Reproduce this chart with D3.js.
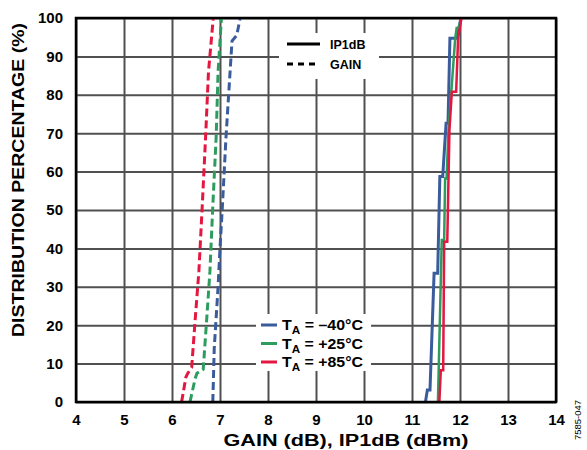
<!DOCTYPE html>
<html><head><meta charset="utf-8">
<script src="https://cdn.jsdelivr.net/npm/d3@7"></script>
<style>html,body{margin:0;padding:0;background:#fff;}svg{display:block;font-family:Arial,"Liberation Sans",sans-serif;}</style>
</head><body>
<svg id="c" width="587" height="450"></svg>
<script>
// ---- data ----
const xTicks = [4,5,6,7,8,9,10,11,12,13,14];
const yTicks = [0,10,20,30,40,50,60,70,80,90,100];
const seriesNames = ["T_A = –40°C","T_A = +25°C","T_A = +85°C"];
const seriesColors = ["#3a5b9c","#2e9c5e","#e3173f"];
// GAIN (dB) distributions: [value, percentage]
const gainM40 = [[6.85,0],[6.88,14],[6.96,30],[7.00,40],[7.05,51],[7.125,69],[7.21,86],[7.25,94],[7.35,95.5],[7.42,100]];
const gainP25 = [[6.375,0],[6.48,6],[6.52,7.5],[6.65,8.5],[6.72,21],[6.79,34],[6.85,51],[6.92,69],[6.96,86],[7.03,100]];
const gainP85 = [[6.20,0],[6.29,6.5],[6.33,7.5],[6.41,9],[6.48,21],[6.56,34],[6.63,51],[6.70,69],[6.76,86],[6.86,100]];
// IP1dB (dBm) distributions: [value, percentage]
const ip1M40 = [[11.28,0],[11.32,3.1],[11.375,3.1],[11.46,33.5],[11.535,33.5],[11.58,58.7],[11.64,58.7],[11.71,72.6],[11.75,72.6],[11.79,94.7],[11.93,94.7],[12.02,100]];
const ip1P25 = [[11.54,0],[11.62,42.2],[11.67,42.2],[11.69,58.2],[11.72,58.2],[11.76,70.8],[11.90,94.7],[11.93,97.4],[11.97,97.4],[12.03,100]];
const ip1P85 = [[11.57,0],[11.60,8.3],[11.65,8.3],[11.67,41.7],[11.735,41.7],[11.78,70.8],[11.83,80.8],[11.92,80.8],[11.96,94.7],[12.03,100]];

const gainSeries = [gainM40, gainP25, gainP85];
const ip1Series = [ip1M40, ip1P25, ip1P85];

// ---- layout ----
const svg = d3.select("#c");
const x = d3.scaleLinear().domain([4,14]).range([76,556]);
const y = d3.scaleLinear().domain([0,100]).range([402,18]);
const gridColor = "#505050";
const FF = "Arial, 'Liberation Sans', sans-serif";

// grid
svg.append("g").attr("class","xgrid")
  .attr("transform",`translate(0,${y(0)})`)
  .call(d3.axisBottom(x).tickValues(xTicks).tickSize(-(y(0)-y(100))).tickFormat(""))
  .call(g=>g.select(".domain").remove())
  .call(g=>g.selectAll("line").attr("stroke",gridColor).attr("stroke-width",2));
svg.append("g").attr("class","ygrid")
  .attr("transform",`translate(${x(4)},0)`)
  .call(d3.axisLeft(y).tickValues(yTicks).tickSize(-(x(14)-x(4))).tickFormat(""))
  .call(g=>g.select(".domain").remove())
  .call(g=>g.selectAll("line").attr("stroke",gridColor).attr("stroke-width",2));

// tick labels
const xl = svg.append("g").attr("transform",`translate(0,${y(0)})`)
  .call(d3.axisBottom(x).tickValues(xTicks).tickSize(0).tickPadding(12).tickFormat(d3.format("d")));
xl.select(".domain").remove();
xl.selectAll("text").attr("font-size",15).attr("font-weight","bold").attr("fill","#000").attr("font-family",FF);
const yl = svg.append("g").attr("transform",`translate(${x(4)},0)`)
  .call(d3.axisLeft(y).tickValues(yTicks).tickSize(0).tickPadding(13).tickFormat(d3.format("d")));
yl.select(".domain").remove();
yl.selectAll("text").attr("font-size",15).attr("font-weight","bold").attr("fill","#000").attr("font-family",FF);

// legend boxes (white, hide grid)
svg.append("rect").attr("x",279).attr("y",33).attr("width",100).attr("height",46).attr("fill","#fff");
svg.append("rect").attr("x",256).attr("y",314).attr("width",115).attr("height",57).attr("fill","#fff");

// lines
const line = d3.line().x(d=>x(d[0])).y(d=>y(d[1]));
const plot = svg.append("g");
gainSeries.forEach((s,i)=>{
  plot.append("path").attr("d",line(s)).attr("fill","none").attr("stroke",seriesColors[i])
    .attr("stroke-width",3).attr("stroke-dasharray","8,4");
});
ip1Series.forEach((s,i)=>{
  plot.append("path").attr("d",line(s)).attr("fill","none").attr("stroke",seriesColors[i])
    .attr("stroke-width",i===0?3:2.5).attr("stroke-linejoin","miter");
});

// frame
svg.append("rect").attr("x",x(4)).attr("y",y(100)).attr("width",x(14)-x(4)).attr("height",y(0)-y(100))
  .attr("fill","none").attr("stroke","#000").attr("stroke-width",2.5);

// style legend
svg.append("line").attr("x1",287).attr("x2",320).attr("y1",44).attr("y2",44).attr("stroke","#000").attr("stroke-width",3);
svg.append("line").attr("x1",287).attr("x2",320).attr("y1",64).attr("y2",64).attr("stroke","#000").attr("stroke-width",3).attr("stroke-dasharray","6,5");
svg.append("text").attr("x",330).attr("y",49).attr("font-size",12.5).attr("font-weight","bold").text("IP1dB");
svg.append("text").attr("x",330).attr("y",69).attr("font-size",12.5).attr("font-weight","bold").text("GAIN");

// temperature legend
const legY = [325,343.5,362];
seriesNames.forEach((n,i)=>{
  svg.append("line").attr("x1",261).attr("x2",277).attr("y1",legY[i]).attr("y2",legY[i]).attr("stroke",seriesColors[i]).attr("stroke-width",3);
  const t = svg.append("text").attr("x",282).attr("y",legY[i]+5).attr("font-size",15).attr("font-weight","bold")
    .attr("textLength",81).attr("lengthAdjust","spacingAndGlyphs");
  const parts = n.split("_A");
  t.append("tspan").text(parts[0]);
  t.append("tspan").attr("font-size",11).attr("dy",4).text("A");
  t.append("tspan").attr("dy",-4).text(parts[1]);
});

// axis titles
svg.append("text").attr("x",346).attr("y",446).attr("text-anchor","middle").attr("font-size",16).attr("font-weight","bold")
  .attr("textLength",245).attr("lengthAdjust","spacingAndGlyphs").text("GAIN (dB), IP1dB (dBm)");
svg.append("text").attr("transform","translate(24,180) rotate(-90)").attr("text-anchor","middle").attr("font-size",16).attr("font-weight","bold")
  .attr("textLength",314).attr("lengthAdjust","spacingAndGlyphs").text("DISTRIBUTION PERCENTAGE (%)");
svg.append("text").attr("transform","translate(581,420) rotate(-90)").attr("text-anchor","middle").attr("font-size",9.5).text("7585-047");
</script>
</body></html>
